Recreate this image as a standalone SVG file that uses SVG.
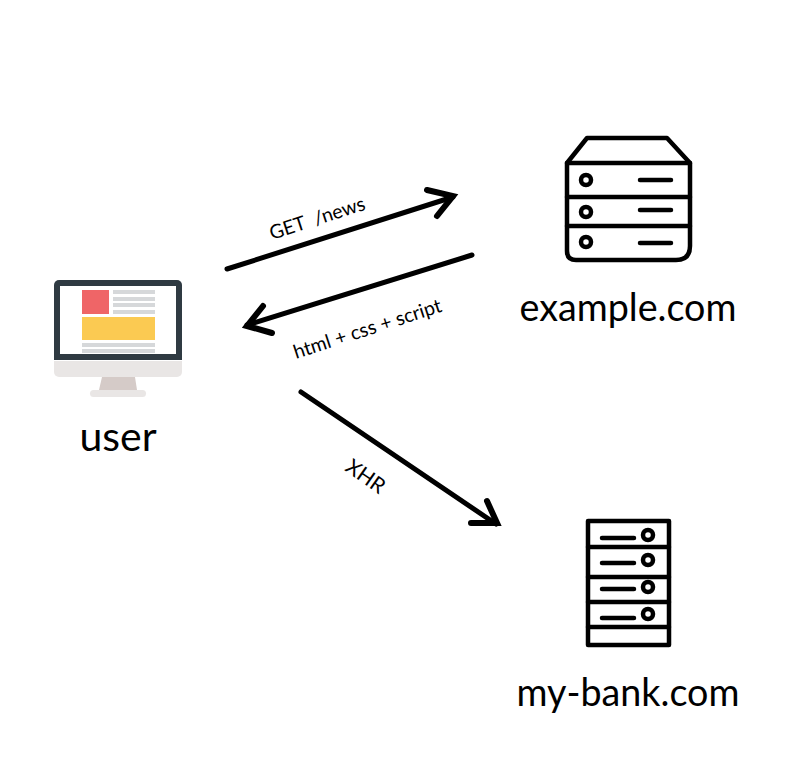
<svg xmlns="http://www.w3.org/2000/svg" width="798" height="770" viewBox="0 0 798 770">
<style>
text{font-family:Lato,"Open Sans",sans-serif;fill:#000;white-space:pre}
.n{font-size:37.7px}
.u{font-size:41px}
.l{font-size:19.5px}
.s{fill:none;stroke:#000;stroke-width:4.5;stroke-linecap:round;stroke-linejoin:round}
.a{fill:none;stroke:#000;stroke-width:5;stroke-linecap:round;stroke-linejoin:round}
.h{fill:none;stroke:#000;stroke-width:6;stroke-linecap:round;stroke-linejoin:miter}
.g{fill:#d6d8da}
</style>
<rect width="798" height="770" fill="#fff"/>
<g id="connectors">
<path class="a" d="M227 269L453 197"/><path class="h" d="M427 190L453 196L437 216"/>
<path class="a" d="M472 255L247 325"/><path class="h" d="M263 306L247 326L272 333"/>
<path class="a" d="M301 392L496 524"/><path class="h" d="M487 501L497 523L471 523"/>
<text class="l" transform="translate(272 240) rotate(-18)">GET  /news</text>
<text class="l" transform="translate(296 359) rotate(-18)">html + css + script</text>
<text class="l" style="font-size:21px" transform="translate(344 470) rotate(35)">XHR</text>
</g>
<g id="user">
<path d="M54 360V285a5 5 0 0 1 5-5H177a5 5 0 0 1 5 5V360Z" fill="#2f3a42"/>
<rect x="60" y="286" width="116" height="68" fill="#fff"/>
<path d="M54 361H182V372a5 5 0 0 1-5 5H59a5 5 0 0 1-5-5Z" fill="#e9e6e5"/>
<path d="M102 377H135L137 390H99Z" fill="#d5cbc8"/>
<rect x="90" y="390" width="56" height="7" rx="3.5" fill="#e9e6e5"/>
<rect x="82" y="290" width="27" height="24" fill="#ef6567"/>
<rect class="g" x="113" y="290" width="42" height="4"/>
<rect class="g" x="113" y="297" width="42" height="4"/>
<rect class="g" x="113" y="303" width="42" height="4"/>
<rect class="g" x="113" y="310" width="42" height="4"/>
<rect x="82" y="317" width="73" height="23" fill="#fbca52"/>
<rect class="g" x="82" y="343" width="73" height="4"/>
<rect class="g" x="82" y="349" width="73" height="4"/>
<text class="u" x="118" y="451" text-anchor="middle">user</text>
</g>
<g id="example-com">
<path class="s" d="M567 163L587 138H667L690 163V246Q690 260 676 260H576Q567 260 567 251Z"/>
<path class="s" d="M567 163H690M567 197H690M567 226H690"/>
<circle class="s" cx="586" cy="180" r="5"/>
<circle class="s" cx="586" cy="212" r="5"/>
<circle class="s" cx="586" cy="242" r="5"/>
<path class="s" d="M640 180H671M640 210H671M640 243H671"/>
<text class="n" x="628" y="321" text-anchor="middle">example.com</text>
</g>
<g id="my-bank-com">
<rect class="s" x="588" y="521" width="81" height="124"/>
<path class="s" d="M588 547H669M588 577H669M588 602H669M588 627H669"/>
<path class="s" d="M602 538H634M602 563H634M602 589H634M602 618H634"/>
<circle class="s" cx="648" cy="535" r="5"/>
<circle class="s" cx="648" cy="560" r="5"/>
<circle class="s" cx="648" cy="587" r="5"/>
<circle class="s" cx="648" cy="614" r="5"/>
<text class="n" x="628" y="706" text-anchor="middle">my-bank.com</text>
</g>
</svg>
